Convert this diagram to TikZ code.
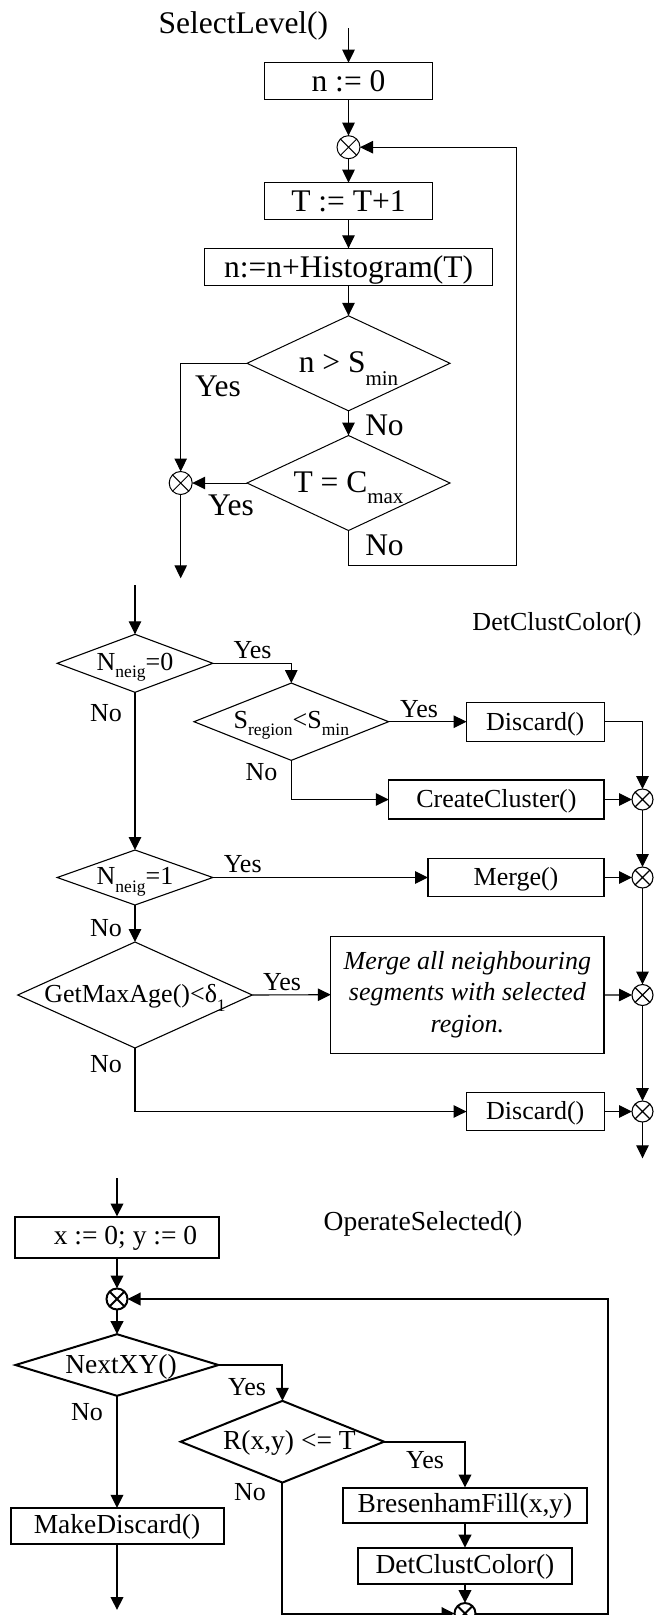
\documentclass[tikz,border=0pt]{standalone}
\usepackage{fontspec}
\setmainfont{Liberation Serif}
\usetikzlibrary{arrows.meta,shapes.geometric}
\newcommand\sbx[3]{\raisebox{-#2pt}[0pt][0pt]{\fontsize{#1}{#1}\selectfont #3}}
\newcommand\xjunc[3]{\node[junc, minimum size=#3] (#1) at (#2) {};
  \draw (#1.45) -- (#1.225) (#1.135) -- (#1.315);}
\tikzset{
  arr/.style={-{Triangle[length=13pt,width=12.5pt]}},
  boxA/.style={draw, rectangle, inner sep=0pt, outer sep=0pt},
  diaA/.style={draw, diamond, inner sep=0pt, outer sep=0pt},
  junc/.style={draw, circle, inner sep=0pt, outer sep=0pt, fill=white},
  fA/.style={font=\fontsize{31.5}{36}\selectfont},
  fB/.style={font=\fontsize{26}{31.7}\selectfont},
  fC/.style={font=\fontsize{27.5}{32}\selectfont},
  fL/.style={font=\fontsize{26}{30}\selectfont},
  tA/.style={text height=21pt, text depth=0pt},
  tB/.style={text height=16.6pt, text depth=0pt},
  tC/.style={text height=14.6pt, text depth=0pt},
  lA/.style={text height=18.5pt, text depth=0pt, inner sep=0pt},
  lB/.style={text height=14pt, text depth=0pt, inner sep=0pt},
  lC/.style={text height=16pt, text depth=0pt, inner sep=0pt},
}
\begin{document}
\begin{tikzpicture}[x=1pt,y=-1pt]
\useasboundingbox (0,0) rectangle (659,1615);
% ---------------- Diagram 1 ----------------
\begin{scope}[line width=1pt]
\coordinate (s1) at (348.5,28.3);
\node[fA, anchor=base west] (t1) at (154.7,33.3) {SelectLevel()};
\node[boxA, fA, tA, minimum width=168, minimum height=36.6] (b1) at (348.5,81) {n := 0};
\xjunc{j1}{348.5,147.2}{23}
\node[boxA, fA, tA, minimum width=168, minimum height=36.6] (b2) at (348.5,201) {T := T+1};
\node[boxA, fA, tA, minimum width=288, minimum height=37.4] (b3) at (348.5,267) {n:=n+Histogram(T)};
\node[diaA, minimum width=203, minimum height=95,
  label={[fA,lA]center:{n > S\sbx{21}{12.5}{min}}}] (d1) at (348.5,363.3) {};
\node[diaA, minimum width=203, minimum height=95,
  label={[fA,lA]center:{T = C\sbx{21}{11.5}{max}}}] (d2) at (348.5,483) {};
\xjunc{j2}{180.7,483}{23}
\coordinate (c1) at (516,565.7);
\coordinate (c2) at (516,147.2);
\coordinate (e1) at (180.7,578.3);
\draw[arr] (s1) -- (b1);
\draw[arr] (b1) -- (j1);
\draw[arr] (j1) -- (b2);
\draw[arr] (b2) -- (b3);
\draw[arr] (b3) -- (d1);
\draw[arr] (d1) -- (d2);
\draw[arr] (d1.west) -| (j2);
\draw[arr] (d2.west) -- (j2);
\draw[arr] (d2.south) |- (c1) -- (c2) -- (j1);
\draw[arr] (j2) -- (e1);
\node[fA, anchor=base] (y1) at (218,396.7) {Yes};
\node[fA, anchor=base] (y2) at (231,515) {Yes};
\node[fA, anchor=base] (n1) at (384.5,435) {No};
\node[fA, anchor=base] (n2) at (384.5,555) {No};
\end{scope}
% ---------------- Diagram 2 ----------------
\begin{scope}[line width=1.1pt]
\coordinate (s2) at (135,585);
\node[fB, anchor=base west] (t2) at (468.6,630) {DetClustColor()};
\node[diaA, minimum width=155.6, minimum height=58,
  label={[fB,lB]center:{N\sbx{17.5}{7.5}{neig}=0}}] (d3) at (135,663.3) {};
\node[diaA, minimum width=194.6, minimum height=77.3,
  label={[fB,lB]center:{S\sbx{17.5}{7}{region}<S\sbx{17.5}{7}{min}}}] (d4) at (291.3,721.7) {};
\node[boxA, fB, tB, minimum width=137.5, minimum height=38.7] (b4) at (535.3,721.7) {Discard()};
\node[boxA, fB, tB, minimum width=215.2, minimum height=39] (b5) at (496.4,799.5) {CreateCluster()};
\xjunc{j3}{642.5,799.5}{21}
\node[diaA, minimum width=155.6, minimum height=55,
  label={[fB,lB]center:{N\sbx{17.5}{7.5}{neig}=1}}] (d5) at (135,877.5) {};
\node[boxA, fB, tB, minimum width=176, minimum height=38.4] (b6) at (516,877.5) {Merge()};
\xjunc{j4}{642.5,877.5}{21}
\node[diaA, minimum width=234.5, minimum height=106,
  label={[fB,lB]center:{GetMaxAge()<δ\sbx{17.5}{9}{1}}}] (d6) at (135,995) {};
\node[boxA, align=center, minimum width=273.2, minimum height=117.3,
  font=\fontsize{26}{31.7}\selectfont\itshape] (b7) at (467.4,994.7)
  {Merge all neighbouring\\segments with selected\\region.};
\xjunc{j5}{642.5,995}{21}
\node[boxA, fB, tB, minimum width=137.5, minimum height=38.4] (b8) at (535.3,1111.5) {Discard()};
\xjunc{j6}{642.5,1111.5}{21}
\coordinate (e2) at (642.5,1158.3);
\draw[arr] (s2) -- (d3);
\draw[arr] (d3.east) -| (d4.north);
\draw[arr] (d4.east) -- (b4.west);
\draw[arr] (b4.east) -| (j3);
\draw[arr] (d4.south) |- (b5.west);
\draw[arr] (b5) -- (j3);
\draw[arr] (j3) -- (j4);
\draw[arr] (d3) -- (d5);
\draw[arr] (d5.east) -- (b6.west);
\draw[arr] (b6) -- (j4);
\draw[arr] (d5) -- (d6);
\draw[arr] (d6.east) -- (b7.west);
\draw[arr] (b7) -- (j5);
\draw[arr] (j4) -- (j5);
\draw[arr] (d6.south) |- (b8.west);
\draw[arr] (b8) -- (j6);
\draw[arr] (j5) -- (j6);
\draw[arr] (j6) -- (e2);
\node[fL, anchor=base] (y3) at (252.6,658.3) {Yes};
\node[fL, anchor=base] (n3) at (106,721.7) {No};
\node[fL, anchor=base] (y4) at (419,717.3) {Yes};
\node[fL, anchor=base] (n4) at (261.5,780) {No};
\node[fL, anchor=base] (y5) at (242.7,872.7) {Yes};
\node[fL, anchor=base] (n5) at (106,936.7) {No};
\node[fL, anchor=base] (y6) at (282,990) {Yes};
\node[fL, anchor=base] (n6) at (106,1072.7) {No};
\end{scope}
% ---------------- Diagram 3 ----------------
\begin{scope}[line width=2pt]
\coordinate (s3) at (117,1178.3);
\node[fC, anchor=base west] (t3) at (319.4,1230) {OperateSelected()};
\node[boxA, fC, tC, minimum width=204, minimum height=41] (b9) at (117,1237) {\hspace*{17pt}x := 0; y := 0};
\xjunc{j7}{117,1299}{21}
\node[diaA, minimum width=203, minimum height=61.6,
  label={[fC,lC,xshift=4pt]center:{NextXY()}}] (d7) at (117,1365) {};
\node[diaA, minimum width=203.4, minimum height=81.7,
  label={[fC,lC,xshift=7pt]center:{R(x,y) <= T}}] (d8) at (282.4,1441.7) {};
\node[boxA, fC, tC, minimum width=213, minimum height=36.3] (b10) at (117,1526) {MakeDiscard()};
\coordinate (e3) at (117,1610);
\node[boxA, fC, tC, minimum width=244.7, minimum height=35] (b11) at (465,1505) {BresenhamFill(x,y)};
\node[boxA, fC, tC, minimum width=213.6, minimum height=36.6] (b12) at (465,1566) {DetClustColor()};
\xjunc{j8}{465,1613.5}{21}
\coordinate (c3) at (607.5,1613.5);
\coordinate (c4) at (607.5,1299);
\draw[arr] (s3) -- (b9);
\draw[arr] (b9) -- (j7);
\draw[arr] (j7) -- (d7);
\draw[arr] (d7.east) -| (d8.north);
\draw[arr] (d7) -- (b10);
\draw[arr] (b10) -- (e3);
\draw[arr] (d8.east) -| (b11.north);
\draw[arr] (b11) -- (b12);
\draw[arr] (b12) -- (j8);
\draw[arr] (d8.south) |- (j8);
\draw[arr] (j8) -- (c3) -- (c4) -- (j7);
\node[fL, anchor=base] (y7) at (247,1395) {Yes};
\node[fL, anchor=base] (n7) at (87,1420) {No};
\node[fL, anchor=base] (y8) at (425,1468.3) {Yes};
\node[fL, anchor=base] (n8) at (250,1500) {No};
\end{scope}
\end{tikzpicture}
\end{document}
